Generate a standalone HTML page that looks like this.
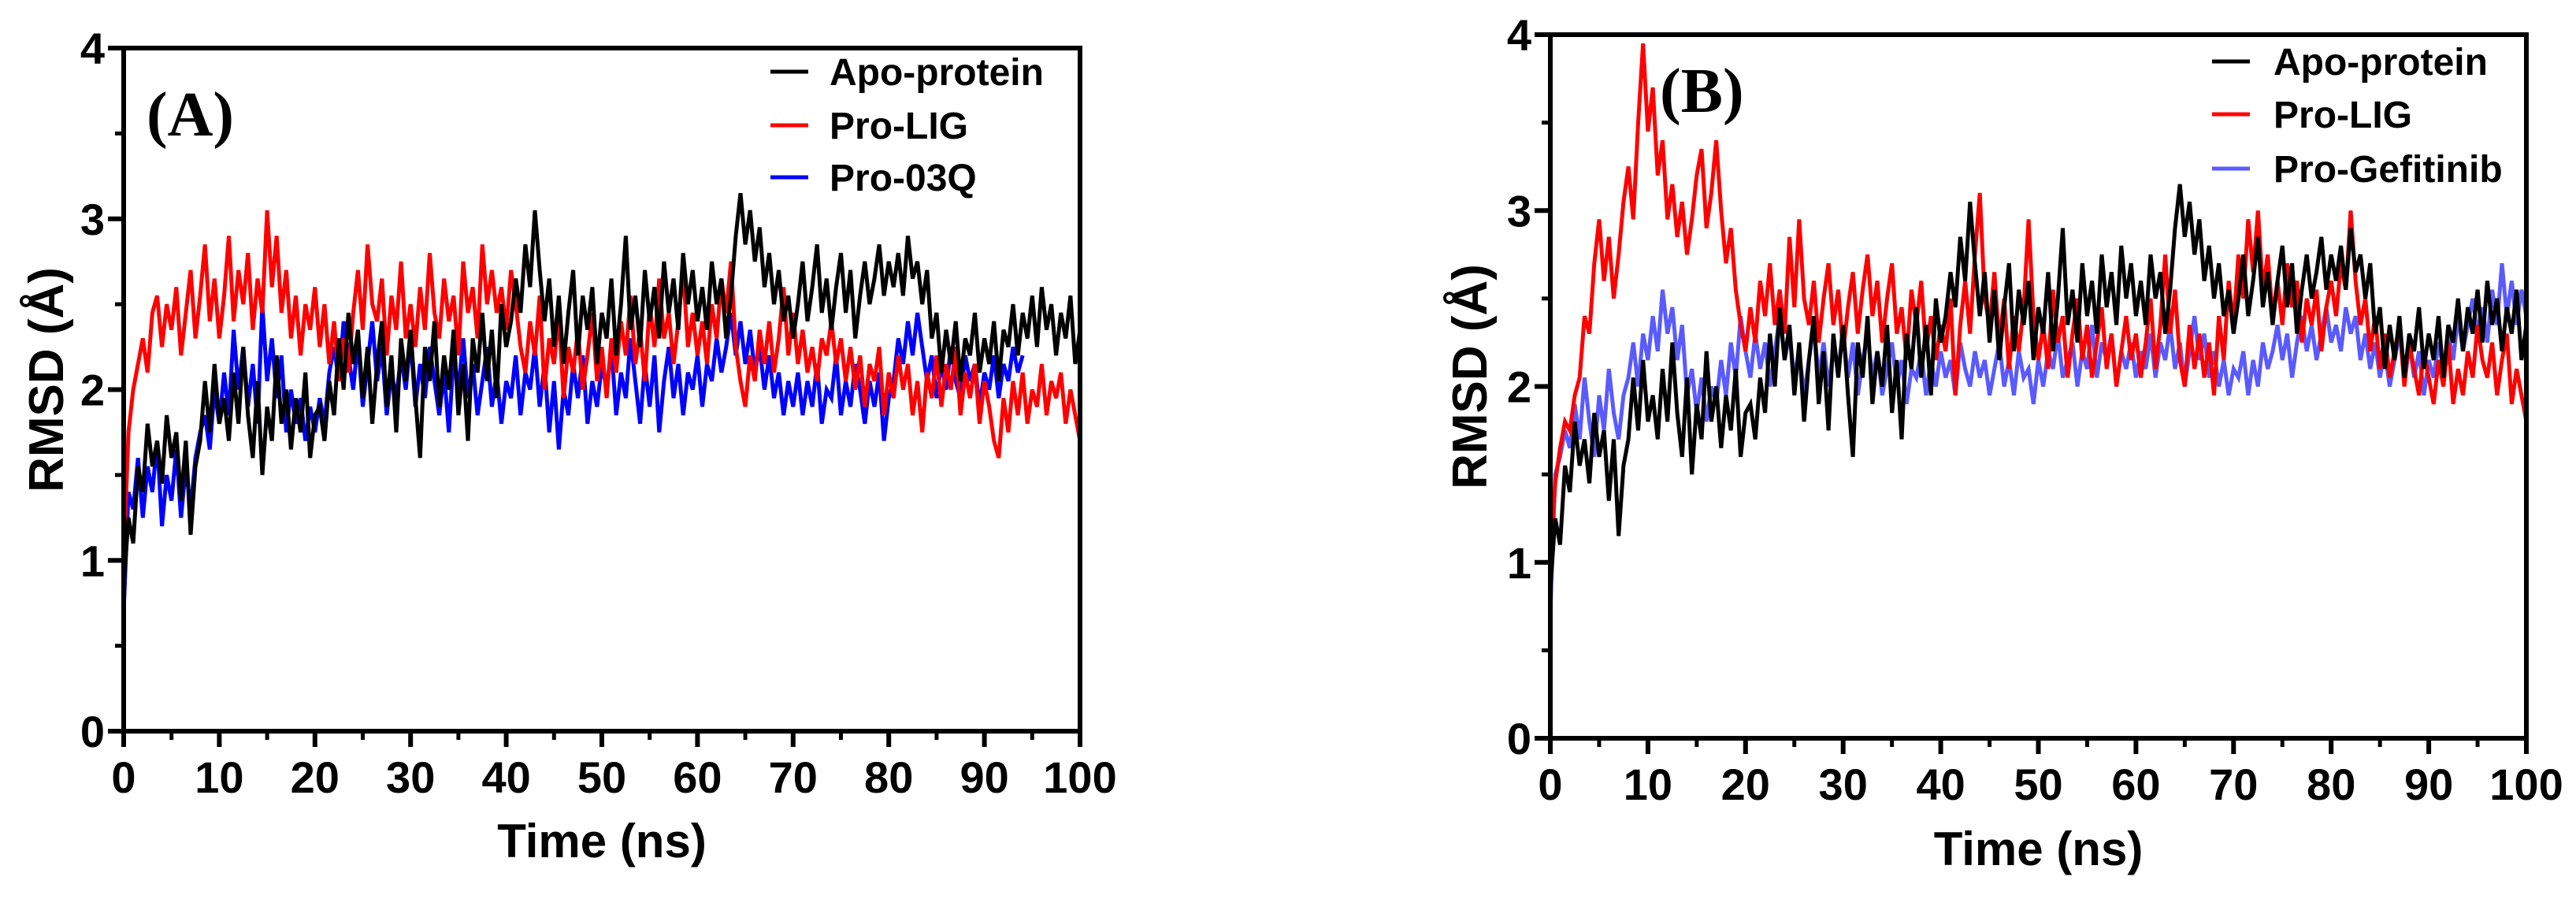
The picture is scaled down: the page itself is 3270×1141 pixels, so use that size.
<!DOCTYPE html>
<html><head><meta charset="utf-8"><style>
html,body{margin:0;padding:0;background:#fff;}
svg{display:block;}
text{font-family:"Liberation Sans",Arial,sans-serif;font-weight:bold;fill:#000;}
</style></head><body>
<svg id="fig" width="3270" height="1141" viewBox="0 0 3270 1141"></svg>
<script>
const timeStep = 0.5;
const xTicks = [0,10,20,30,40,50,60,70,80,90,100];
const yTicks = [0,1,2,3,4];
const apoValues = [0.85,1.25,1.10,1.55,1.40,1.80,1.55,1.70,1.45,1.85,1.60,1.75,1.35,1.70,1.15,1.55,1.70,2.05,1.75,2.15,1.80,
1.95,1.70,2.10,1.80,2.25,1.85,1.60,2.05,1.50,1.90,1.70,2.20,1.80,2.00,1.65,1.95,1.75,2.10,1.60,1.85,
1.90,1.70,2.05,1.85,2.30,2.00,2.45,2.15,2.35,1.95,2.25,1.80,2.15,2.40,1.90,2.20,1.75,2.30,2.05,2.35,
1.95,1.60,2.25,2.05,2.40,1.90,2.20,2.00,2.35,1.85,2.15,1.70,2.30,2.10,2.45,2.05,2.35,1.95,2.50,2.25,
2.40,2.65,2.45,2.85,2.60,3.05,2.70,2.40,2.65,2.25,2.55,2.15,2.45,2.70,2.20,2.55,2.35,2.60,2.15,2.45,
2.30,2.65,2.20,2.50,2.90,2.35,2.55,2.25,2.70,2.40,2.60,2.30,2.75,2.45,2.65,2.35,2.80,2.50,2.70,2.40,
2.60,2.35,2.75,2.50,2.65,2.30,2.55,2.90,3.15,2.85,3.05,2.75,2.95,2.60,2.80,2.50,2.70,2.40,2.55,2.30,
2.50,2.75,2.40,2.60,2.85,2.45,2.65,2.35,2.60,2.80,2.45,2.70,2.30,2.55,2.75,2.50,2.65,2.85,2.55,2.75,
2.60,2.80,2.55,2.90,2.65,2.75,2.50,2.70,2.30,2.45,2.10,2.35,2.15,2.40,2.05,2.30,2.20,2.45,2.10,2.30,
2.15,2.40,2.05,2.35,2.25,2.50,2.20,2.45,2.30,2.55,2.25,2.60,2.35,2.50,2.20,2.45,2.30,2.55,2.15,2.35];
const ligAValues = [1.00,1.75,2.00,2.15,2.30,2.10,2.45,2.55,2.25,2.50,2.35,2.60,2.20,2.45,2.70,2.30,2.55,2.85,2.40,2.65,2.30,
2.55,2.90,2.40,2.70,2.50,2.80,2.35,2.65,2.45,3.05,2.60,2.90,2.45,2.70,2.30,2.55,2.20,2.50,2.35,2.60,
2.25,2.50,2.15,2.40,2.05,2.30,2.10,2.45,2.70,2.35,2.85,2.50,2.40,2.65,2.20,2.55,2.35,2.75,2.30,2.50,
2.25,2.60,2.35,2.80,2.45,2.30,2.65,2.40,2.55,2.20,2.75,2.45,2.60,2.30,2.85,2.50,2.70,2.45,2.60,2.35,
2.70,2.50,2.25,2.10,2.40,2.20,2.55,2.00,2.30,2.15,2.45,1.95,2.25,2.10,2.35,2.00,2.20,2.45,2.05,2.25,
1.95,2.30,2.10,2.40,2.20,2.55,2.15,2.35,2.05,2.50,2.25,2.65,2.30,2.45,2.15,2.40,2.70,2.25,2.45,2.20,
2.40,2.15,2.50,2.30,2.65,2.45,2.75,2.25,2.05,1.90,2.20,2.05,2.35,2.15,2.40,2.10,2.30,2.60,2.20,2.45,
2.15,2.35,2.10,2.25,2.05,2.30,2.20,2.40,2.15,2.30,2.05,2.25,2.00,2.20,1.90,2.15,2.05,2.25,1.85,2.10,
1.95,2.20,2.00,2.15,1.85,2.05,1.75,2.10,1.95,2.20,1.90,2.15,2.00,2.25,1.85,2.10,1.95,2.15,1.80,2.05,
1.90,1.70,1.60,1.95,1.75,2.05,1.85,2.10,1.80,2.00,1.90,2.15,1.85,2.05,1.95,2.10,1.80,2.00,1.85,1.70];
const q03Values = [0.70,1.40,1.30,1.60,1.25,1.55,1.40,1.70,1.20,1.50,1.35,1.65,1.25,1.55,1.30,1.60,1.75,1.85,1.65,2.00,1.80,
2.10,1.85,2.35,2.00,2.25,1.90,2.15,1.80,2.50,2.05,2.30,1.95,2.20,1.75,2.00,1.80,1.95,1.70,1.90,1.75,
1.95,1.80,2.10,2.25,2.05,2.40,2.20,2.00,2.30,1.90,2.15,2.40,2.05,2.25,1.85,2.10,1.95,2.20,2.00,2.30,
1.90,2.15,1.95,2.25,2.05,1.85,2.10,1.75,2.20,2.00,2.30,1.95,2.15,1.85,2.05,2.25,1.90,2.10,1.80,2.05,
1.95,2.20,1.85,2.10,2.00,2.25,1.90,2.15,1.75,2.05,1.65,2.00,1.85,2.15,1.95,2.20,1.80,2.05,1.90,2.15,
2.00,2.25,1.85,2.10,1.95,2.30,2.05,1.80,2.15,1.90,2.20,1.75,2.05,2.25,1.95,2.15,1.85,2.10,2.00,2.20,
1.90,2.15,2.05,2.30,2.10,2.25,2.45,2.20,2.40,2.15,2.35,2.10,2.25,2.00,2.20,1.95,2.10,1.85,2.05,1.90,
2.10,1.85,2.05,1.90,2.15,1.80,2.00,1.95,2.20,1.85,2.05,1.90,2.15,2.00,1.80,2.05,1.90,2.10,1.70,1.95,
2.05,2.30,2.15,2.40,2.20,2.45,2.25,2.05,2.20,1.95,2.15,2.00,2.25,2.05,1.95,2.20,2.05,2.15,1.90,2.10,
2.00,2.20,1.95,2.15,2.05,2.25,2.10,2.20];
const ligBValues = [1.00,1.45,1.65,1.80,1.75,1.95,2.05,2.40,2.30,2.70,2.95,2.60,2.85,2.50,2.75,3.05,3.25,2.95,3.50,3.95,3.45,
3.70,3.20,3.40,2.95,3.15,2.85,3.05,2.75,2.95,3.20,3.35,2.90,3.10,3.40,3.00,2.70,2.90,2.55,2.35,2.20,
2.45,2.25,2.60,2.40,2.70,2.35,2.55,2.30,2.85,2.45,2.95,2.50,2.35,2.60,2.25,2.50,2.70,2.35,2.55,2.20,
2.45,2.65,2.30,2.55,2.75,2.40,2.60,2.25,2.50,2.70,2.30,2.45,2.15,2.55,2.35,2.60,2.20,2.40,2.15,2.35,
2.20,2.50,1.95,2.35,2.60,2.30,2.75,3.10,2.50,2.35,2.65,2.25,2.50,2.10,2.40,2.20,2.45,2.95,2.40,2.15,
2.35,2.10,2.55,2.25,2.40,2.05,2.30,2.50,2.15,2.35,2.05,2.25,2.45,2.10,2.30,2.00,2.20,2.40,2.15,2.30,
2.05,2.25,2.50,2.10,2.35,2.75,2.30,2.55,2.15,2.00,2.35,2.10,2.30,2.05,2.25,1.95,2.40,2.15,2.60,2.35,
2.75,2.50,2.95,2.65,3.00,2.55,2.75,2.40,2.60,2.35,2.70,2.45,2.60,2.25,2.50,2.35,2.55,2.20,2.45,2.60,
2.40,2.70,2.55,3.00,2.60,2.35,2.50,2.20,2.40,2.10,2.30,2.05,2.20,2.35,2.00,2.25,2.10,1.95,2.20,2.05,
1.90,2.15,2.00,2.25,1.90,2.10,1.95,2.20,2.05,2.35,2.15,2.05,2.25,1.95,2.15,2.30,1.90,2.10,1.95,1.80];
const gefValues = [0.70,1.50,1.60,1.75,1.65,1.90,1.70,2.05,1.80,1.60,1.95,1.75,2.10,1.85,1.70,1.95,2.05,2.25,2.00,2.30,2.15,
2.40,2.20,2.55,2.30,2.45,2.15,2.35,1.95,2.10,1.85,2.05,1.80,2.00,1.90,2.15,1.95,2.25,2.05,2.40,2.20,
2.05,2.30,2.10,2.25,2.00,2.20,2.40,2.15,2.30,2.05,2.20,1.95,2.15,2.35,2.05,2.25,2.00,2.20,2.10,2.30,
2.05,2.25,1.95,2.15,2.30,2.05,2.20,1.95,2.10,2.25,2.00,2.15,1.90,2.10,2.05,2.20,1.95,2.15,2.00,2.20,
2.05,2.15,1.95,2.25,2.10,2.00,2.20,2.05,2.15,1.95,2.10,2.25,2.00,2.15,1.95,2.20,2.05,2.10,1.90,2.15,
2.00,2.20,2.10,2.30,2.05,2.15,2.25,2.00,2.20,2.10,2.35,2.05,2.25,2.15,2.30,2.00,2.20,2.10,2.25,2.05,
2.20,2.10,2.30,2.05,2.25,2.15,2.35,2.10,2.25,2.00,2.20,2.40,2.15,2.30,2.05,2.20,2.00,2.15,1.95,2.10,
2.05,2.20,1.95,2.15,2.00,2.25,2.10,2.20,2.35,2.15,2.30,2.05,2.25,2.40,2.20,2.35,2.15,2.30,2.45,2.25,
2.35,2.20,2.45,2.30,2.40,2.15,2.30,2.10,2.25,2.05,2.20,2.00,2.15,2.30,2.10,2.25,2.05,2.20,1.95,2.15,
2.05,2.25,2.10,2.30,2.15,2.40,2.20,2.35,2.50,2.30,2.45,2.25,2.55,2.35,2.70,2.40,2.60,2.35,2.55,2.40];

const NS = "http://www.w3.org/2000/svg";
const svg = document.getElementById('fig');
function mk(tag, attrs, parent){ const e=document.createElementNS(NS,tag); for(const k in attrs) e.setAttribute(k,attrs[k]); (parent||svg).appendChild(e); return e; }

function panel(cfg){
  const g = mk('g',{});
  
  
  const xs = v => cfg.x0 + (v/100)*(cfg.x1-cfg.x0);
  const ys = v => cfg.y0 - (v/4)*(cfg.y0-cfg.y1);
  cfg.series.forEach(s=>{
    let d='';
    s.vals.forEach((v,i)=>{ d += (i?'L':'M') + xs(i*timeStep).toFixed(1)+','+ys(v).toFixed(1); });
    const p = mk('path',{d:d,fill:'none',stroke:s.color,'stroke-width':5,'stroke-linejoin':'miter'},g);
    
    
  });
  const fr = mk('rect',{x:cfg.x0,y:cfg.y1,width:cfg.x1-cfg.x0,height:cfg.y0-cfg.y1,fill:'none',stroke:'#000','stroke-width':6},g);
  
  
  xTicks.forEach((t,i)=>{
    mk('line',{x1:xs(t),x2:xs(t),y1:cfg.y0,y2:cfg.y0+20,stroke:'#000','stroke-width':6},g);
    if(i<xTicks.length-1) mk('line',{x1:xs(t+5),x2:xs(t+5),y1:cfg.y0,y2:cfg.y0+11,stroke:'#000','stroke-width':5},g);
    const tx = mk('text',{x:xs(t),y:cfg.y0+78,'text-anchor':'middle','font-size':56},g);
    tx.textContent = t;
    
    
  });
  yTicks.forEach((t,i)=>{
    mk('line',{x1:cfg.x0-20,x2:cfg.x0,y1:ys(t),y2:ys(t),stroke:'#000','stroke-width':6},g);
    if(i<yTicks.length-1) mk('line',{x1:cfg.x0-11,x2:cfg.x0,y1:ys(t+0.5),y2:ys(t+0.5),stroke:'#000','stroke-width':5},g);
    const ty = mk('text',{x:cfg.x0-24,y:ys(t)+20,'text-anchor':'end','font-size':56},g);
    ty.textContent = t;
    
    
  });
  const xt = mk('text',{x:(cfg.x0+cfg.x1)/2,y:cfg.xTitleY,'text-anchor':'middle','font-size':60},g);
  xt.textContent = 'Time (ns)';
  
  
  const yt = mk('text',{x:0,y:0,'text-anchor':'middle','font-size':62,transform:`translate(${cfg.yTitleX},${cfg.yTitleY}) rotate(-90)`},g);
  yt.textContent = 'RMSD (Å)';
  
  
  const lb = mk('text',{x:cfg.labelX,y:cfg.labelY,'font-size':80,style:'font-family:"Liberation Serif",serif;font-weight:bold'},g);
  lb.textContent = cfg.label;
  
  
  cfg.legend.forEach((L,i)=>{
    const y = cfg.legY[i];
    const ll = mk('line',{x1:cfg.legLineX,x2:cfg.legLineX+48,y1:y-17,y2:y-17,stroke:L.color,'stroke-width':5},g);
    
    
    const lt = mk('text',{x:cfg.legTextX,y:y,'font-size':48},g);
    lt.textContent = L.name;
    
    
  });
}

panel({id:'panel-a',x0:157,x1:1371,y0:928,y1:61,xTitleY:1088,yTitleX:80,yTitleY:482,label:'(A)',labelX:186,labelY:172,
  legLineX:978,legTextX:1053,legY:[108,176,242],
  series:[{name:'pro-03q',color:'#0000ff',vals:q03Values},{name:'pro-lig',color:'#ff0000',vals:ligAValues},{name:'apo-protein',color:'#000000',vals:apoValues}],
  legend:[{name:'Apo-protein',color:'#000'},{name:'Pro-LIG',color:'#ff0000'},{name:'Pro-03Q',color:'#0000ff'}]});
panel({id:'panel-b',x0:1968,x1:3207,y0:937,y1:44,xTitleY:1098,yTitleX:1887,yTitleY:478,label:'(B)',labelX:2107,labelY:142,
  legLineX:2808,legTextX:2886,legY:[95,162,231],
  series:[{name:'pro-gefitinib',color:'#5a5aff',vals:gefValues},{name:'pro-lig',color:'#ff0000',vals:ligBValues},{name:'apo-protein',color:'#000000',vals:apoValues}],
  legend:[{name:'Apo-protein',color:'#000'},{name:'Pro-LIG',color:'#ff0000'},{name:'Pro-Gefitinib',color:'#5a5aff'}]});
</script>
</body></html>
